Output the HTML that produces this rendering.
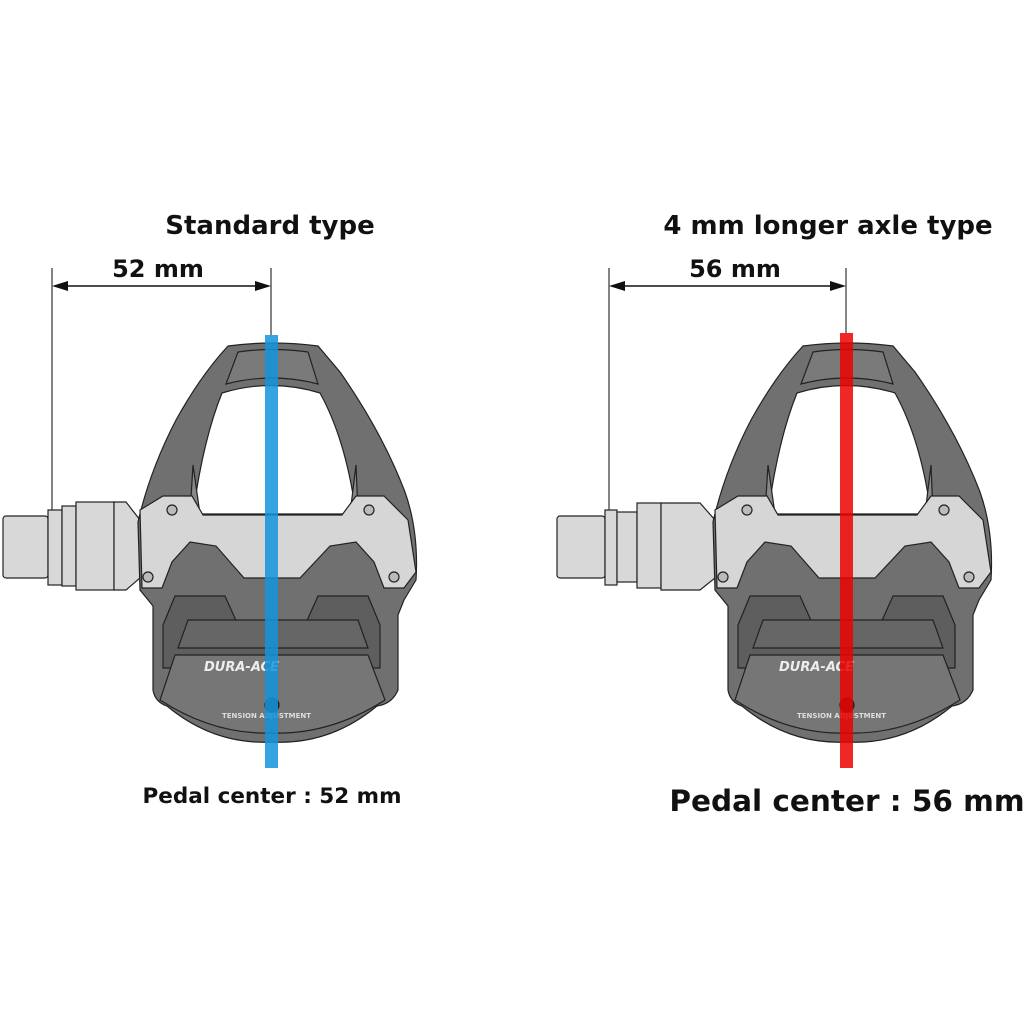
<!DOCTYPE html>
<html><head><style>
html,body{margin:0;padding:0;background:#fff;}
svg{display:block;}
text{font-family:"DejaVu Sans","Liberation Sans",sans-serif;font-weight:bold;fill:#111;}
</style></head><body>
<svg width="1024" height="1024" viewBox="0 0 1024 1024" xmlns="http://www.w3.org/2000/svg">
<defs>
<g id="body" stroke="#222" stroke-width="1.2">
  <path d="M228,346 Q273,340 318,346 L340,372 Q382,432 405,492 Q419,532 416,580 L404,600 L398,615 L398,690 Q392,704 377,706 Q330,745 272,742 Q214,745 167,706 Q155,702 153,690 L153,606 L140,590 L138,522 Q150,470 176,420 Q201,375 228,346 Z" fill="#707070"/>
  <path d="M238,352 Q272,347 308,352 L318,384 Q272,372 226,384 Z" fill="#7a7a7a"/>
  <path d="M222,393 Q271,378 320,393 Q346,440 356,514 L193,514 Q203,440 222,393 Z" fill="#fff"/>
  <path d="M193,465 L190,514 L200,514 Z M356,465 L358,514 L350,514 Z" fill="#888"/>
  <path d="M175,596 L225,596 L238,625 L305,625 L318,596 L368,596 L380,625 L380,668 L163,668 L163,625 Z" fill="#5e5e5e"/>
  <path d="M188,620 L358,620 L368,648 L178,648 Z" fill="#666"/>
  <path d="M175,655 L368,655 L385,700 Q330,735 272,733 Q214,735 160,700 Z" fill="#767676"/>
  <path d="M140,510 L163,496 L192,496 L203,515 L342,515 L356,496 L384,496 L408,520 L416,572 L404,588 L384,588 L374,562 L356,542 L330,546 L300,578 L244,578 L216,546 L190,542 L172,562 L162,588 L142,588 Z" fill="#d6d6d6"/>
  <g fill="#bbb"><circle cx="172" cy="510" r="5"/><circle cx="369" cy="510" r="5"/><circle cx="148" cy="577" r="5"/><circle cx="394" cy="577" r="5"/></g>
  <circle cx="272" cy="705" r="7" fill="#333"/>
</g>
</defs>

<!-- LEFT -->
<g stroke="#222" stroke-width="1.2" fill="#d8d8d8">
  <rect x="3" y="516" width="45" height="62" rx="3"/>
  <rect x="48" y="510" width="14" height="75"/>
  <rect x="62" y="506" width="14" height="80"/>
  <rect x="76" y="502" width="38" height="88"/>
  <path d="M114,502 L126,502 L140,520 L140,578 L126,590 L114,590 Z"/>
</g>
<use href="#body"/>
<text x="204" y="671" font-size="13" font-style="italic" style="fill:#eee">DURA-ACE</text>
<text x="222" y="718" font-size="7" style="fill:#ddd">TENSION ADJUSTMENT</text>
<rect x="265" y="335" width="13" height="433" fill="#1494dc" opacity="0.85"/>

<line x1="52" y1="268" x2="52" y2="510" stroke="#333" stroke-width="1.2"/>
<line x1="271" y1="268" x2="271" y2="335" stroke="#333" stroke-width="1.2"/>
<line x1="56" y1="286" x2="268" y2="286" stroke="#111" stroke-width="1.5"/>
<path d="M52,286 L68,281 L68,291 Z M271,286 L255,281 L255,291 Z" fill="#111"/>
<text x="270" y="234" font-size="26" text-anchor="middle">Standard type</text>
<text x="158" y="277" font-size="24" text-anchor="middle">52 mm</text>
<text x="272" y="803" font-size="21.5" text-anchor="middle">Pedal center : 52 mm</text>

<!-- RIGHT -->
<g stroke="#222" stroke-width="1.2" fill="#d8d8d8">
  <rect x="557" y="516" width="48" height="62" rx="3"/>
  <rect x="605" y="510" width="12" height="75"/>
  <rect x="617" y="512" width="20" height="70"/>
  <rect x="637" y="503" width="24" height="85"/>
  <path d="M661,503 L700,503 L715,520 L715,578 L700,590 L661,590 Z"/>
</g>
<use href="#body" transform="translate(575,0)"/>
<text x="779" y="671" font-size="13" font-style="italic" style="fill:#eee">DURA-ACE</text>
<text x="797" y="718" font-size="7" style="fill:#ddd">TENSION ADJUSTMENT</text>
<rect x="840" y="333" width="13" height="435" fill="#ee0000" opacity="0.85"/>

<line x1="609" y1="268" x2="609" y2="510" stroke="#333" stroke-width="1.2"/>
<line x1="846" y1="268" x2="846" y2="333" stroke="#333" stroke-width="1.2"/>
<line x1="613" y1="286" x2="843" y2="286" stroke="#111" stroke-width="1.5"/>
<path d="M609,286 L625,281 L625,291 Z M846,286 L830,281 L830,291 Z" fill="#111"/>
<text x="828" y="234" font-size="26" text-anchor="middle">4 mm longer axle type</text>
<text x="735" y="277" font-size="24" text-anchor="middle">56 mm</text>
<text x="847" y="811" font-size="29.5" text-anchor="middle">Pedal center : 56 mm</text>
</svg>
</body></html>
